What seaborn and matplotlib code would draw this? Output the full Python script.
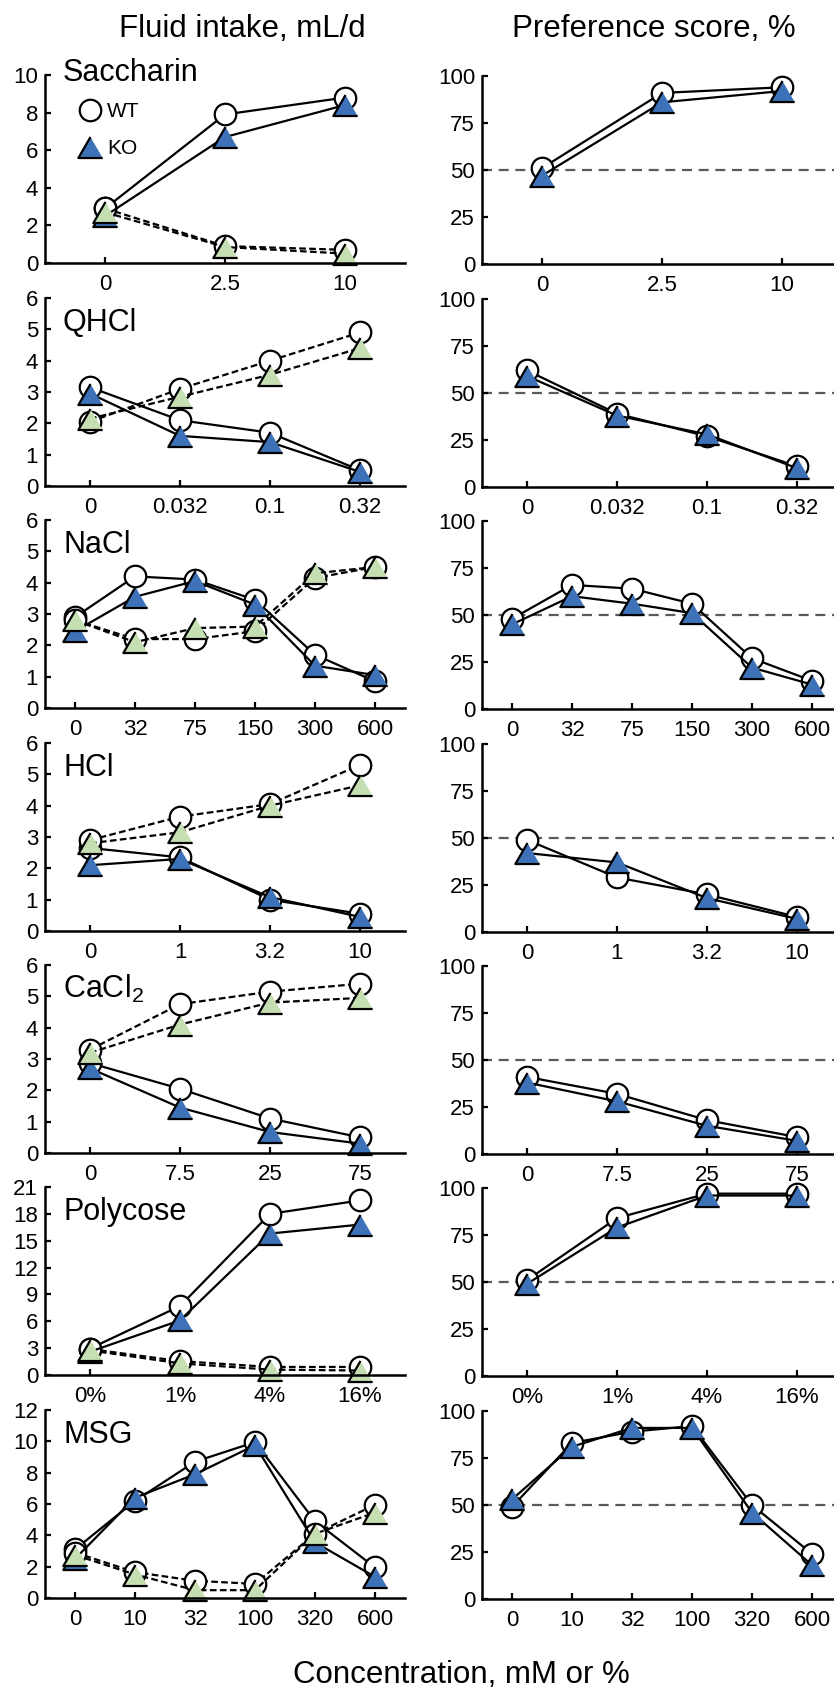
import numpy as np
import matplotlib
matplotlib.use('Agg')
import matplotlib.pyplot as plt
import seaborn as sns
from matplotlib.lines import Line2D

# concentrations (x tick labels)
sac_conc = ['0', '2.5', '10']
qhcl_conc = ['0', '0.032', '0.1', '0.32']
nacl_conc = ['0', '32', '75', '150', '300', '600']
hcl_conc = ['0', '1', '3.2', '10']
cacl_conc = ['0', '7.5', '25', '75']
poly_conc = ['0%', '1%', '4%', '16%']
msg_conc = ['0', '10', '32', '100', '320', '600']

# fluid intake, mL/d  (taste = tastant bottle, solid; water = water bottle, dashed)
sac_wt_taste = [2.9, 7.9, 8.8]
sac_ko_taste = [2.5, 6.7, 8.4]
sac_wt_water = [2.9, 0.9, 0.7]
sac_ko_water = [2.7, 0.85, 0.5]

qhcl_wt_taste = [3.15, 2.1, 1.7, 0.5]
qhcl_ko_taste = [2.95, 1.6, 1.4, 0.45]
qhcl_wt_water = [2.05, 3.1, 4.0, 4.9]
qhcl_ko_water = [2.15, 2.85, 3.55, 4.4]

nacl_wt_taste = [2.9, 4.2, 4.1, 3.45, 1.7, 0.85]
nacl_ko_taste = [2.45, 3.55, 4.05, 3.3, 1.35, 1.05]
nacl_wt_water = [2.8, 2.2, 2.2, 2.45, 4.15, 4.5]
nacl_ko_water = [2.8, 2.1, 2.55, 2.6, 4.3, 4.5]

hcl_wt_taste = [2.65, 2.35, 1.0, 0.55]
hcl_ko_taste = [2.1, 2.3, 1.08, 0.45]
hcl_wt_water = [2.9, 3.65, 4.05, 5.3]
hcl_ko_water = [2.8, 3.15, 4.0, 4.65]

cacl_wt_taste = [2.87, 2.05, 1.1, 0.5]
cacl_ko_taste = [2.7, 1.45, 0.67, 0.3]
cacl_wt_water = [3.3, 4.75, 5.15, 5.4]
cacl_ko_water = [3.2, 4.1, 4.8, 4.95]

poly_wt_taste = [2.95, 7.7, 18.0, 19.5]
poly_ko_taste = [2.6, 6.1, 15.8, 16.8]
poly_wt_water = [2.9, 1.55, 0.9, 0.9]
poly_ko_water = [2.75, 1.3, 0.6, 0.5]

msg_wt_taste = [3.1, 6.2, 8.7, 9.95, 4.9, 1.95]
msg_ko_taste = [2.5, 6.4, 7.9, 9.75, 3.55, 1.35]
msg_wt_water = [2.9, 1.65, 1.1, 0.9, 4.1, 5.95]
msg_ko_water = [2.75, 1.5, 0.5, 0.5, 4.1, 5.45]

# preference score, %
sac_wt_pref = [51, 91, 94]
sac_ko_pref = [47, 86, 92]
qhcl_wt_pref = [62, 39, 27, 11]
qhcl_ko_pref = [59, 38, 28, 10]
nacl_wt_pref = [48, 66, 64, 56, 27, 15]
nacl_ko_pref = [45, 60, 56, 51, 22, 13]
hcl_wt_pref = [49, 29, 20, 8]
hcl_ko_pref = [42, 37, 18, 7]
cacl_wt_pref = [41, 32, 18, 9]
cacl_ko_pref = [38, 28, 15, 7]
poly_wt_pref = [51, 84, 97, 97]
poly_ko_pref = [49, 79, 96, 96]
msg_wt_pref = [49, 83, 89, 92, 50, 24]
msg_ko_pref = [53, 81, 91, 91, 46, 18]

panels = [
    ('Saccharin', sac_conc, 10, 2, sac_wt_taste, sac_ko_taste, sac_wt_water, sac_ko_water, sac_wt_pref, sac_ko_pref),
    ('QHCl', qhcl_conc, 6, 1, qhcl_wt_taste, qhcl_ko_taste, qhcl_wt_water, qhcl_ko_water, qhcl_wt_pref, qhcl_ko_pref),
    ('NaCl', nacl_conc, 6, 1, nacl_wt_taste, nacl_ko_taste, nacl_wt_water, nacl_ko_water, nacl_wt_pref, nacl_ko_pref),
    ('HCl', hcl_conc, 6, 1, hcl_wt_taste, hcl_ko_taste, hcl_wt_water, hcl_ko_water, hcl_wt_pref, hcl_ko_pref),
    ('CaCl$_\\mathregular{2}$', cacl_conc, 6, 1, cacl_wt_taste, cacl_ko_taste, cacl_wt_water, cacl_ko_water, cacl_wt_pref, cacl_ko_pref),
    ('Polycose', poly_conc, 21, 3, poly_wt_taste, poly_ko_taste, poly_wt_water, poly_ko_water, poly_wt_pref, poly_ko_pref),
    ('MSG', msg_conc, 12, 2, msg_wt_taste, msg_ko_taste, msg_wt_water, msg_ko_water, msg_wt_pref, msg_ko_pref),
]

sns.set_style('ticks')
plt.rcParams['font.family'] = ['Liberation Sans', 'DejaVu Sans']
plt.rcParams['mathtext.fontset'] = 'custom'
plt.rcParams['mathtext.rm'] = 'Liberation Sans'
for k in ['text.color', 'axes.labelcolor', 'xtick.color', 'ytick.color', 'axes.edgecolor']:
    plt.rcParams[k] = 'black'

BLUE = '#3D72B8'
GREEN = '#C5DFB3'
TRI = [(0, 0.866), (-1, -0.866), (1, -0.866)]
MS_C = 15.5   # circle
MS_T = 17.5   # triangle
LW = 1.6

W, H = 834, 1691
fig = plt.figure(figsize=(W / 100, H / 100), dpi=100)
bottoms = [263, 486, 708, 931, 1153, 1375, 1598]
ph = 188
aw = 360


def px_axes(x0, ybot):
    return fig.add_axes([x0 / W, (H - ybot) / H, aw / W, ph / H])


def series(ax, y, marker, face, ls):
    x = np.arange(len(y))
    ms = MS_C if marker == 'o' else MS_T
    sns.lineplot(x=x, y=y, ax=ax, color='black', linewidth=LW, linestyle=ls,
                 marker=marker, markersize=ms, markerfacecolor=face,
                 markeredgecolor='black', markeredgewidth=LW,
                 errorbar=None, sort=False, clip_on=False)


def style(ax, labels, ymax, ystep):
    n = len(labels)
    ax.set_xlim(-0.5, n - 0.5)
    ax.set_xticks(np.arange(n))
    ax.set_xticklabels(labels)
    ax.set_ylim(0, ymax)
    ax.set_yticks(np.arange(0, ymax + 0.01, ystep))
    sns.despine(ax=ax)
    for s in ['left', 'bottom']:
        ax.spines[s].set_linewidth(1.8)
    ax.tick_params(direction='in', length=4.5, width=1.6, labelsize=16)
    ax.tick_params(axis='x', pad=8)
    ax.tick_params(axis='y', pad=5)
    ax.set_xlabel('')
    ax.set_ylabel('')


dash = (0, (3, 1.5))
for i, (name, conc, ymax, ystep, wt_t, ko_t, wt_w, ko_w, wt_p, ko_p) in enumerate(panels):
    axl = px_axes(45, bottoms[i])
    series(axl, wt_t, 'o', 'white', '-')
    series(axl, wt_w, 'o', 'white', dash)
    series(axl, ko_t, TRI, BLUE, '-')
    series(axl, ko_w, TRI, GREEN, dash)
    style(axl, conc, ymax, ystep)
    ty = 0.97 if i == 0 else 0.825
    axl.text(0.05, ty, name, transform=axl.transAxes, fontsize=22, va='baseline', ha='left')

    axr = px_axes(482, bottoms[i] + 1)
    axr.axhline(50, color='#5a5a5a', linewidth=1.6, linestyle=(0, (4.5, 3)), zorder=0)
    series(axr, wt_p, 'o', 'white', '-')
    series(axr, ko_p, TRI, BLUE, '-')
    style(axr, conc, 100, 25)

    if i == 0:
        handles = [
            Line2D([], [], ls='none', marker='o', ms=MS_C, mfc='white', mec='black', mew=LW, label='WT'),
            Line2D([], [], ls='none', marker=TRI, ms=MS_T, mfc=BLUE, mec='black', mew=LW, label='KO'),
        ]
        axl.legend(handles=handles, loc='upper left', bbox_to_anchor=(0.097, 0.855),
                   frameon=False, fontsize=15, handlelength=1.0, handletextpad=0.3,
                   labelspacing=0.85, borderpad=0, borderaxespad=0)

fig.text(242 / W, 1 - 37 / H, 'Fluid intake, mL/d', ha='center', va='baseline', fontsize=22.5)
fig.text(654 / W, 1 - 37 / H, 'Preference score, %', ha='center', va='baseline', fontsize=22.5)
fig.text(461 / W, 1 - 1683 / H, 'Concentration, mM or %', ha='center', va='baseline', fontsize=22.5)

fig.savefig('out.png', dpi=100)
